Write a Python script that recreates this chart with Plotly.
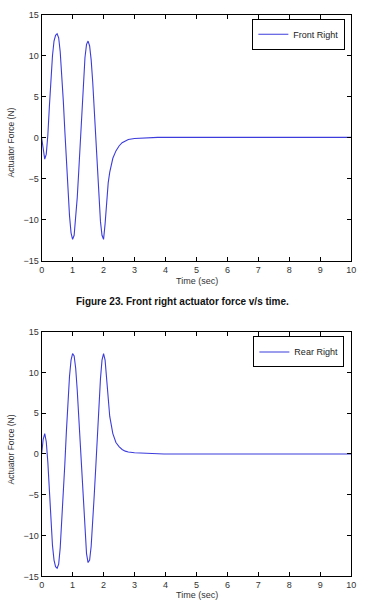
import plotly.graph_objects as go

# Front Right actuator force
t_front = [0.0, 0.05, 0.1, 0.15, 0.2, 0.25, 0.3, 0.35, 0.4, 0.45, 0.5, 0.55, 0.6, 0.65, 0.7, 0.75,
           0.8, 0.85, 0.9, 0.95, 1.0, 1.05, 1.1, 1.15, 1.2, 1.25, 1.3, 1.35, 1.4, 1.45, 1.5, 1.55,
           1.6, 1.65, 1.7, 1.75, 1.8, 1.85, 1.9, 1.95, 2.0, 2.05, 2.1, 2.15, 2.2, 2.3, 2.4, 2.5,
           2.6, 2.7, 2.8, 3.0, 3.3, 3.7, 3.75, 10.0]
f_front = [0.0, -1.5, -2.6, -2.0, 0.3, 3.8, 7.5, 10.0, 11.8, 12.5, 12.7, 12.2, 10.5, 8.0, 4.5, 0.8,
           -3.0, -6.5, -9.5, -11.6, -12.4, -11.9, -10.0, -7.3, -4.0, -0.3, 3.5, 7.0, 9.8, 11.4, 11.8, 11.2,
           9.5, 6.8, 3.5, -0.2, -4.0, -7.5, -10.2, -11.9, -12.4, -10.5, -7.5, -5.5, -4.2, -2.5, -1.6, -1.0,
           -0.6, -0.35, -0.2, -0.08, -0.03, -0.02, 0.05, 0.05]

# Rear Right actuator force
t_rear = [0.0, 0.05, 0.1, 0.15, 0.2, 0.25, 0.3, 0.35, 0.4, 0.45, 0.5, 0.55, 0.6, 0.65, 0.7, 0.75,
          0.8, 0.85, 0.9, 0.95, 1.0, 1.05, 1.1, 1.15, 1.2, 1.25, 1.3, 1.35, 1.4, 1.45, 1.5, 1.55,
          1.6, 1.65, 1.7, 1.75, 1.8, 1.85, 1.9, 1.95, 2.0, 2.05, 2.1, 2.15, 2.2, 2.3, 2.4, 2.5,
          2.6, 2.7, 2.8, 3.0, 3.5, 3.9, 3.95, 10.0]
f_rear = [0.0, 1.8, 2.5, 1.5, -1.0, -5.0, -8.5, -11.2, -13.0, -13.8, -14.0, -13.5, -11.5, -8.5, -5.0, -1.2,
          2.8, 6.5, 9.5, 11.5, 12.3, 12.0, 10.5, 7.8, 4.5, 0.8, -3.0, -6.7, -9.8, -12.2, -13.3, -13.0,
          -11.3, -8.5, -5.0, -1.5, 2.2, 6.0, 9.2, 11.5, 12.3, 11.5, 8.8, 6.3, 4.6, 2.5, 1.4, 0.9,
          0.55, 0.35, 0.25, 0.15, 0.1, 0.08, 0.0, 0.0]

x_ticks = [0, 1, 2, 3, 4, 5, 6, 7, 8, 9, 10]
y_ticks = [-15, -10, -5, 0, 5, 10, 15]

W, H = 366, 607
LINE = "#3c3cdc"
FONT = "Liberation Sans, Arial"

fig = go.Figure()
fig.add_trace(go.Scatter(x=t_front, y=f_front, mode="lines", name="Front Right",
                         line=dict(color=LINE, width=1.1),
                         xaxis="x", yaxis="y", legend="legend"))
fig.add_trace(go.Scatter(x=t_rear, y=f_rear, mode="lines", name="Rear Right",
                         line=dict(color=LINE, width=1.1),
                         xaxis="x2", yaxis="y2", legend="legend2"))

xd = [39.5 / W, 356 / W]
top_dom = [(H - 260) / H, (H - 10) / H]
bot_dom = [(H - 581) / H, (H - 332) / H]

axis_common = dict(showline=True, linecolor="black", linewidth=1, mirror="ticks",
                   ticks="inside", ticklen=4, tickcolor="black", showgrid=False, zeroline=False,
                   tickfont=dict(family=FONT, size=9, color="#333333"))

leg_common = dict(xanchor="right", yanchor="top", bordercolor="black", borderwidth=1,
                  bgcolor="white", font=dict(family=FONT, size=9, color="#222222"),
                  itemwidth=30, tracegroupgap=0)

fig.update_layout(
    width=W, height=H, margin=dict(l=0, r=0, t=0, b=0),
    paper_bgcolor="white", plot_bgcolor="white",
    xaxis=dict(domain=xd, anchor="y", range=[0, 10], tickvals=x_ticks, **axis_common),
    yaxis=dict(domain=top_dom, anchor="x", range=[-15, 15], tickvals=y_ticks, **axis_common),
    xaxis2=dict(domain=xd, anchor="y2", range=[0, 10], tickvals=x_ticks, **axis_common),
    yaxis2=dict(domain=bot_dom, anchor="x2", range=[-15, 15], tickvals=y_ticks, **axis_common),
    legend=dict(x=350 / W, y=(H - 14) / H, **leg_common),
    legend2=dict(x=349 / W, y=(H - 337) / H, **leg_common),
    showlegend=True,
)

font_small = dict(family=FONT, size=9, color="#333333")
ann = [
    dict(text="Time (sec)", x=198 / W, y=(H - 281) / H, font=font_small),
    dict(text="Time (sec)", x=198 / W, y=(H - 600) / H, font=font_small),
    dict(text="<b>Figure 23. Front right actuator force v/s time.</b>", x=183 / W, y=(H - 301) / H,
         font=dict(family=FONT, size=10, color="#111111")),
    dict(text="Actuator Force (N)", x=8 / W, y=(H - 140) / H, textangle=-90,
         font=dict(family=FONT, size=8.5, color="#333333")),
    dict(text="Actuator Force (N)", x=8 / W, y=(H - 452) / H, textangle=-90,
         font=dict(family=FONT, size=8.5, color="#333333")),
]
for a in ann:
    fig.add_annotation(xref="paper", yref="paper", showarrow=False,
                       xanchor="center", yanchor="middle", **a)

fig.write_html("out.html")
